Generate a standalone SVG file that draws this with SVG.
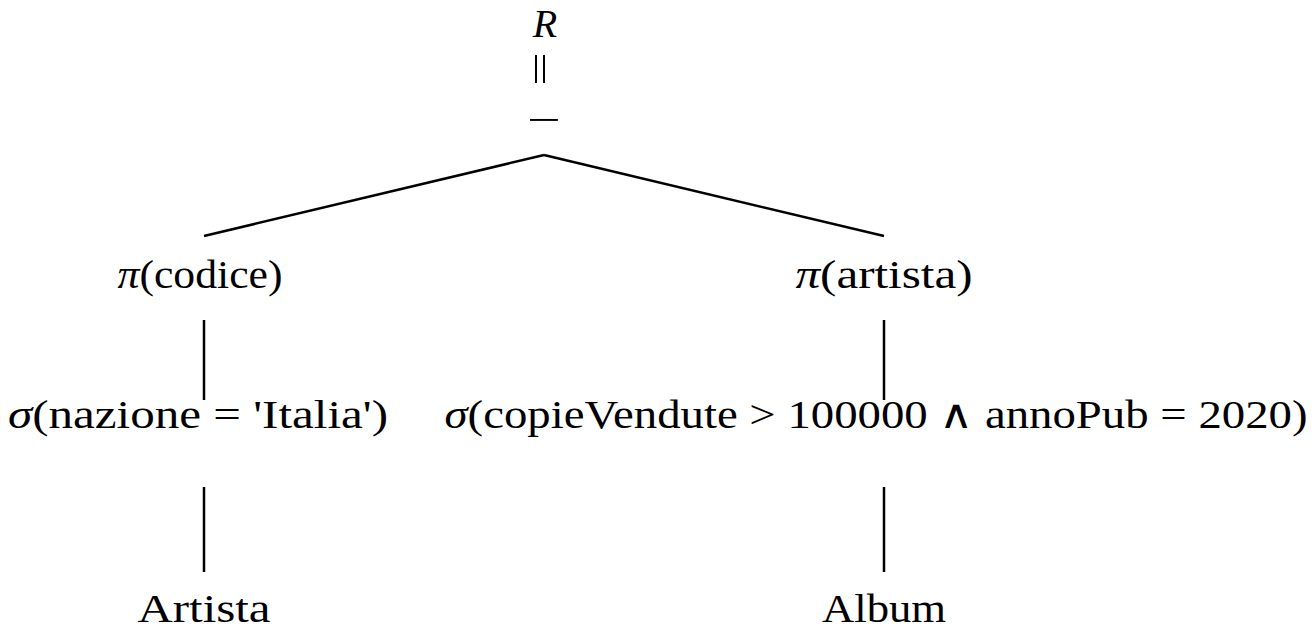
<svg xmlns="http://www.w3.org/2000/svg" width="1314" height="630" viewBox="0 0 1314 630">
<style>
text{font-family:"Liberation Serif","Times New Roman",serif;font-size:40px;fill:#000;text-anchor:middle}
.it{font-style:italic}
line{stroke:#000;stroke-width:2.5}
</style>
<rect width="1314" height="630" fill="#fff"/>
<g id="root">
<text class="it" x="545" y="37">R</text>
<text x="0" y="14" font-size="64" transform="translate(540.5 69) rotate(90) scale(1.5 1)">=</text>
<text x="0" y="0" font-size="60" transform="translate(544 133) scale(1.5 1)">−</text>
</g>
<g id="connectors">
<line x1="544" y1="155" x2="204" y2="236"/>
<line x1="544" y1="155" x2="884" y2="236"/>
<line x1="204" y1="320" x2="204" y2="400"/>
<line x1="204" y1="487" x2="204" y2="572"/>
<line x1="884" y1="320" x2="884" y2="400"/>
<line x1="884" y1="487" x2="884" y2="572"/>
</g>
<g id="proj-codice">
<text x="200" y="288" textLength="165" lengthAdjust="spacingAndGlyphs"><tspan class="it">π</tspan>(codice)</text>
</g>
<g id="proj-artista">
<text x="884" y="288" textLength="177" lengthAdjust="spacingAndGlyphs"><tspan class="it">π</tspan>(artista)</text>
</g>
<g id="sel-nazione">
<text x="198" y="428" textLength="380" lengthAdjust="spacingAndGlyphs"><tspan class="it">σ</tspan>(nazione = 'Italia')</text>
</g>
<g id="sel-album">
<text x="876" y="428" textLength="863" lengthAdjust="spacingAndGlyphs"><tspan class="it">σ</tspan>(copieVendute &gt; 100000 ∧ annoPub = 2020)</text>
</g>
<g id="artista">
<text x="204" y="622" textLength="133" lengthAdjust="spacingAndGlyphs">Artista</text>
</g>
<g id="album">
<text x="884" y="622" textLength="124" lengthAdjust="spacingAndGlyphs">Album</text>
</g>
</svg>
